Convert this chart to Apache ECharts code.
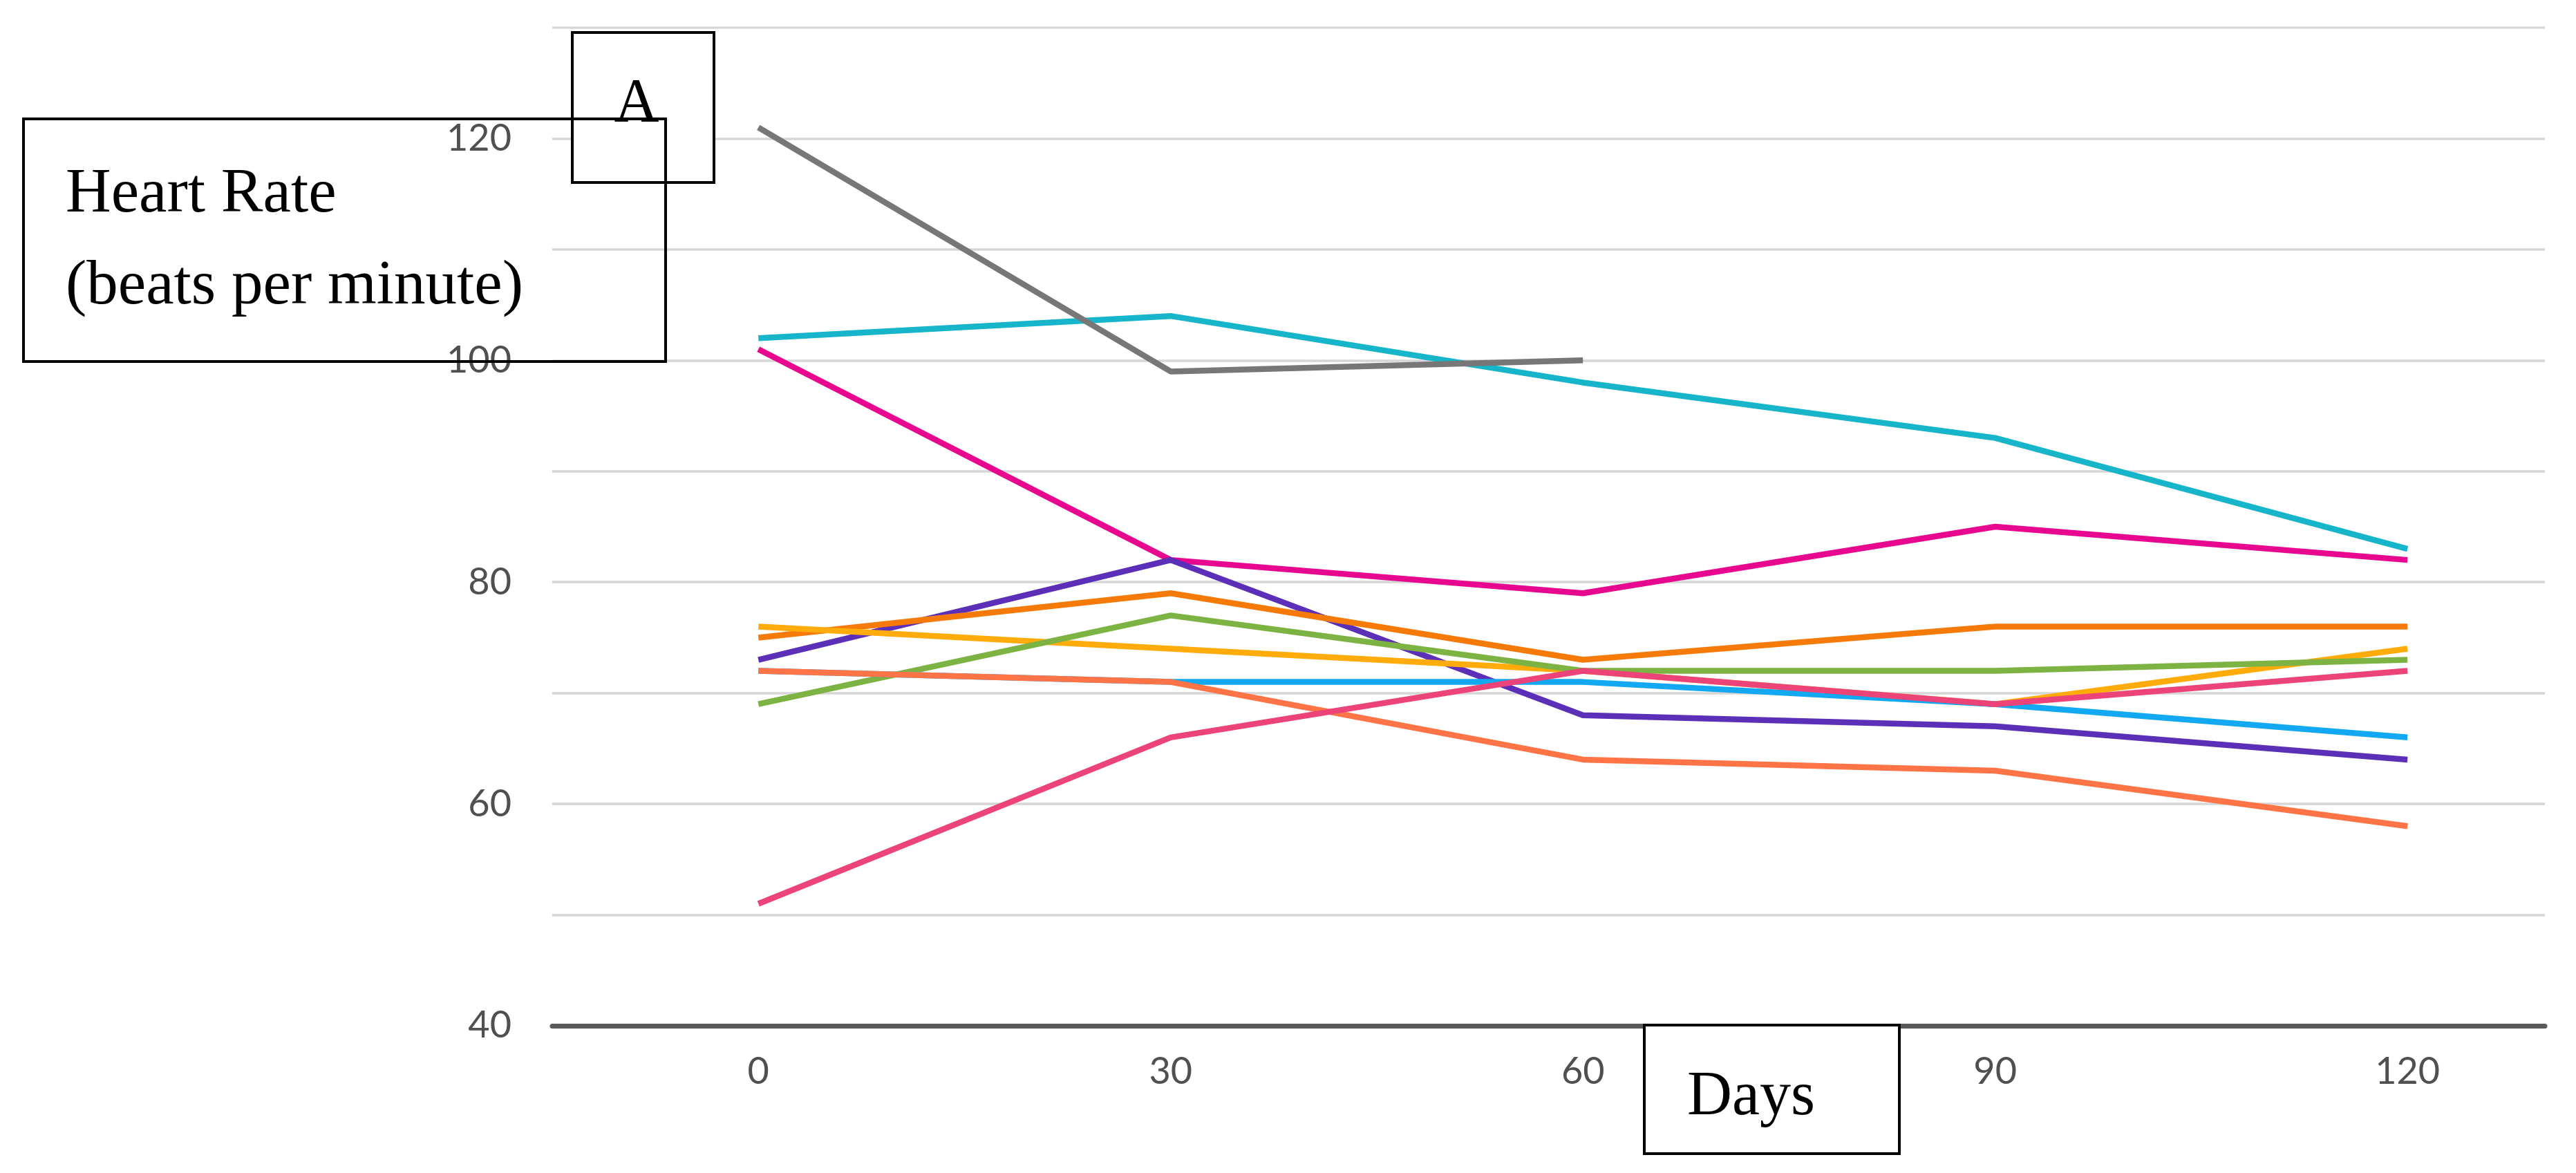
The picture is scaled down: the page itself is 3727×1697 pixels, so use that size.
<!DOCTYPE html>
<html>
<head>
<meta charset="utf-8">
<script src="https://cdn.jsdelivr.net/npm/echarts@6/dist/echarts.min.js"></script>
<style>
html,body{margin:0;padding:0;background:#fff;}
#chart{width:3727px;height:1697px;}
</style>
</head>
<body>
<div id="chart"></div>
<script>
const days = [0, 30, 60, 90, 120];
const yTicks = [40, 60, 80, 100, 120];
const teal = [102, 104, 98, 93, 83];
const magenta = [101, 82, 79, 85, 82];
const purple = [73, 82, 68, 67, 64];
const orange = [75, 79, 73, 76, 76];
const amber = [76, 74, 72, 69, 74];
const green = [69, 77, 72, 72, 73];
const lightBlue = [72, 71, 71, 69, 66];
const coral = [72, 71, 64, 63, 58];
const pink = [51, 66, 72, 69, 72];
const gray = [121, 99, 100, null, null];

const seriesList = [
  {name: 'Subject 1', values: teal, color: '#16b5c9'},
  {name: 'Subject 2', values: magenta, color: '#e8078f'},
  {name: 'Subject 3', values: purple, color: '#5c2fb8'},
  {name: 'Subject 4', values: orange, color: '#f57a08'},
  {name: 'Subject 5', values: amber, color: '#ffab0a'},
  {name: 'Subject 6', values: green, color: '#7cb342'},
  {name: 'Subject 7', values: lightBlue, color: '#12a9f2'},
  {name: 'Subject 8', values: coral, color: '#ff7447'},
  {name: 'Subject 9', values: pink, color: '#ec4479'},
  {name: 'Subject 10', values: gray, color: '#777777'}
];

const chart = echarts.init(document.getElementById('chart'));
const option = {
  animation: false,
  backgroundColor: '#ffffff',
  grid: {left: 799, right: 45, top: 40, bottom: 213, containLabel: false},
  xAxis: {
    type: 'value',
    min: -15, max: 130, interval: 15,
    axisLine: {show: true, lineStyle: {color: '#5a5a5a', width: 7}},
    axisTick: {show: false},
    splitLine: {show: false},
    axisLabel: {
      margin: 40,
      color: '#505050',
      fontFamily: 'Lato',
      fontSize: 54,
      showMinLabel: true, showMaxLabel: true,
      formatter: function (v) { return days.indexOf(v) >= 0 ? String(v) : ''; }
    }
  },
  yAxis: {
    type: 'value',
    min: 40, max: 130, interval: 10,
    axisLine: {show: false},
    axisTick: {show: false},
    splitLine: {show: true, lineStyle: {color: '#d6d6d6', width: 3.5}},
    axisLabel: {
      margin: 59,
      color: '#505050',
      fontFamily: 'Lato',
      fontSize: 54,
      formatter: function (v) { return yTicks.indexOf(v) >= 0 ? String(v) : ''; }
    }
  },
  series: seriesList.map(function (s) {
    return {
      name: s.name,
      type: 'line',
      showSymbol: false,
      symbol: 'none',
      connectNulls: false,
      lineStyle: {color: s.color, width: 8.5},
      itemStyle: {color: s.color},
      data: days.map(function (d, i) { return [d, s.values[i]]; })
    };
  }),
  graphic: [
    {type: 'rect', z: 100, shape: {x: 828, y: 47, width: 205, height: 217},
     style: {fill: '#ffffff', stroke: '#000000', lineWidth: 4}},
    {type: 'text', z: 101, x: 921, y: 152,
     style: {text: 'A', font: '90px "Liberation Serif"', fill: '#000', textAlign: 'center', textVerticalAlign: 'middle'}},
    {type: 'rect', z: 102, shape: {x: 34, y: 172, width: 929, height: 351},
     style: {fill: 'rgba(0,0,0,0)', stroke: '#000000', lineWidth: 4}},
    {type: 'text', z: 103, x: 95, y: 282,
     style: {text: 'Heart Rate', font: '91px "Liberation Serif"', fill: '#000', textAlign: 'left', textVerticalAlign: 'middle'}},
    {type: 'text', z: 103, x: 95, y: 415,
     style: {text: '(beats per minute)', font: '91px "Liberation Serif"', fill: '#000', textAlign: 'left', textVerticalAlign: 'middle'}},
    {type: 'rect', z: 100, shape: {x: 2379, y: 1483, width: 369, height: 186},
     style: {fill: '#ffffff', stroke: '#000000', lineWidth: 4}},
    {type: 'text', z: 101, x: 2441, y: 1588,
     style: {text: 'Days', font: '90px "Liberation Serif"', fill: '#000', textAlign: 'left', textVerticalAlign: 'middle'}}
  ]
};
chart.setOption(option);
</script>
</body>
</html>
